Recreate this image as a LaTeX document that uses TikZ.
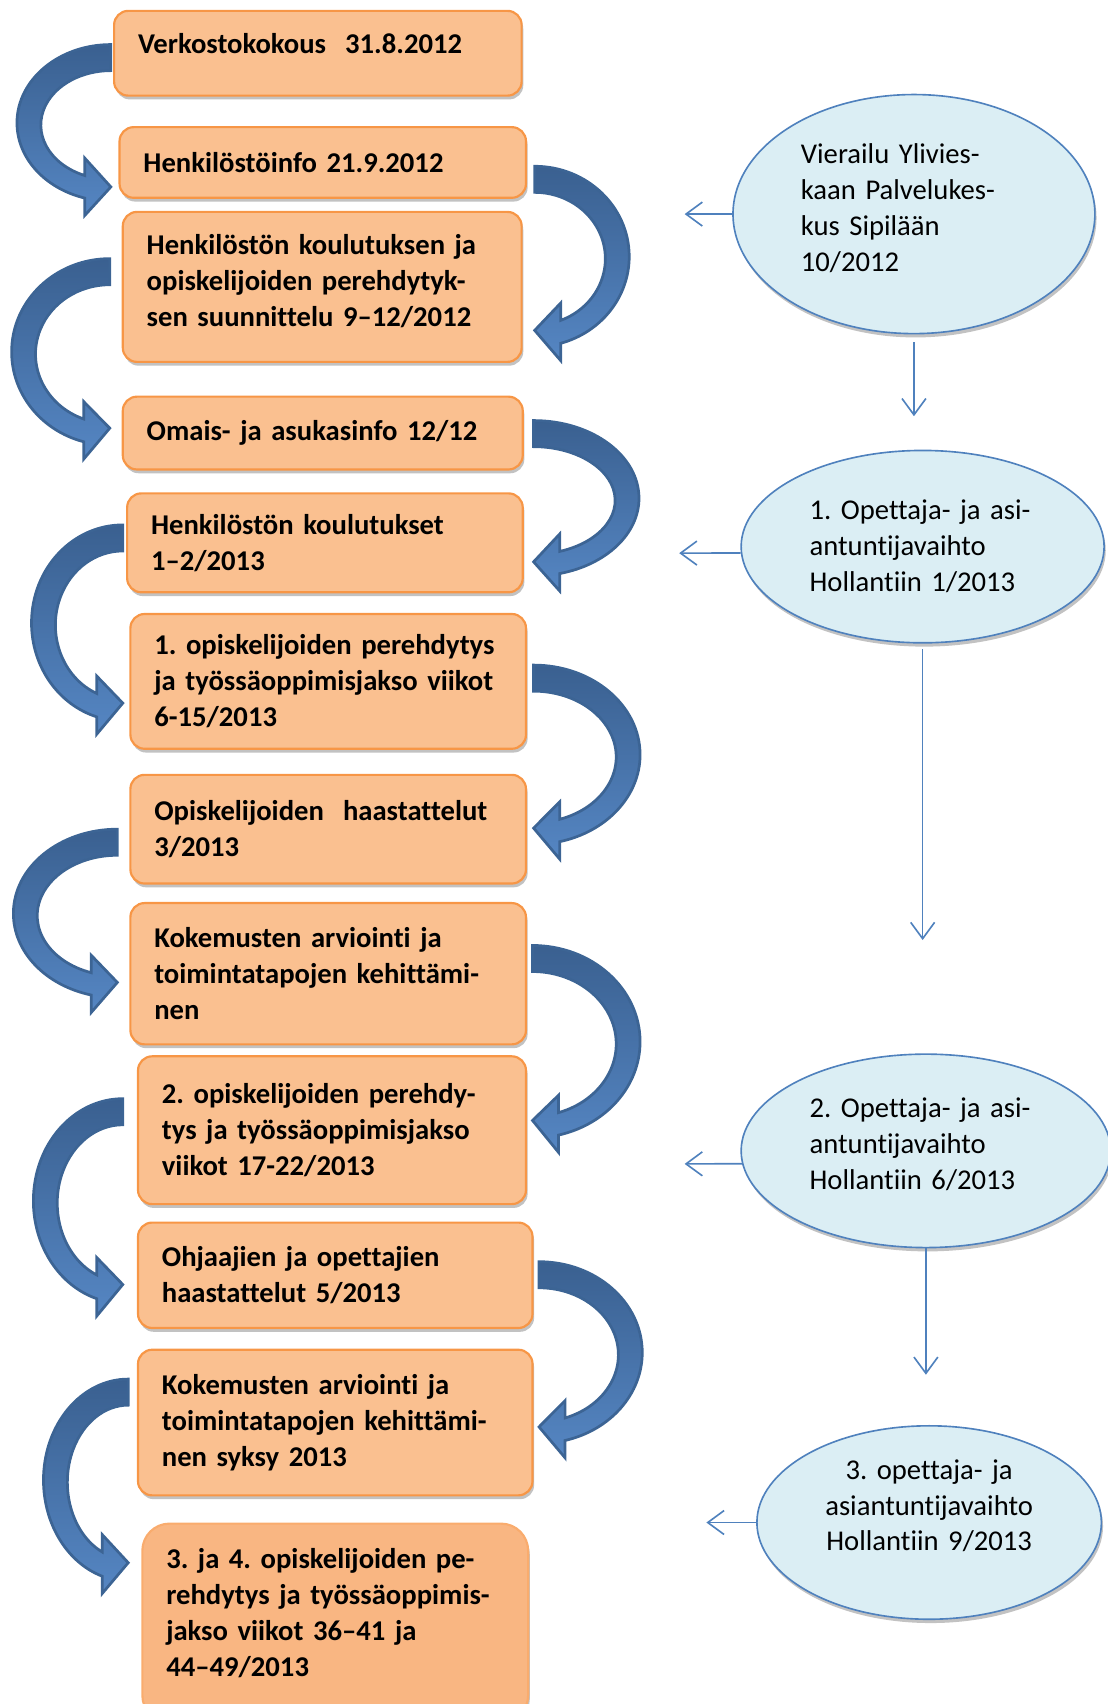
\documentclass[tikz,border=0pt]{standalone}
\usepackage{fontspec}
\setmainfont{Carlito}[Ligatures=NoCommon]
\frenchspacing
\usepackage{tikz}
\usetikzlibrary{arrows.meta,shadows,shapes.geometric}
\definecolor{stagefill}{HTML}{FAC090}
\definecolor{stageline}{HTML}{F79646}
\definecolor{lastfill}{HTML}{F9B682}
\definecolor{lastline}{HTML}{F9AC6E}
\definecolor{visitfill}{HTML}{DBEEF4}
\definecolor{visitline}{HTML}{4F81BD}
\definecolor{bendtop}{HTML}{3A6090}
\definecolor{bendbot}{HTML}{5586C3}
\definecolor{bendline}{HTML}{3C6494}
\tikzset{stage/.style={rounded corners=2.6mm, draw=stageline, line width=0.4mm, fill=stagefill,
   drop shadow={shadow xshift=0.3mm, shadow yshift=-0.7mm, fill=black!40, opacity=0.6},
   inner xsep=4.4mm, inner ysep=1mm, align=left,
   font=\fontsize{15}{18.8}\selectfont\bfseries},
 visit/.style={ellipse, draw=visitline, line width=0.3mm, fill=visitfill,
   drop shadow={shadow xshift=0.3mm, shadow yshift=-0.7mm, fill=black!40, opacity=0.6},
   inner sep=0pt, align=left, font=\fontsize{15}{18.8}\selectfont},
 link/.style={draw=visitline, line width=0.3mm, -{Straight Barb[length=3mm,width=4.4mm]}},
 bend arrow/.style={draw=bendline, line width=0.5mm, top color=bendtop, bottom color=bendbot}
}
% #1 side (-1 left, 1 right), #2 start x, #3 top y, #4 far x, #5 tip y
\newcommand{\bendarrow}[5]{%
  \pgfmathsetmacro{\bndW}{abs(#4-#2)}
  \pgfmathsetmacro{\bndB}{0.55*(#5-#3)}
  \pgfmathsetmacro{\bndS}{90-180*(#1)}
  \pgfmathsetmacro{\bndO}{acos((#1)*24/\bndW)}
  \pgfmathsetmacro{\bndPo}{#3+\bndB+\bndB*sin(\bndO)}
  \pgfmathsetmacro{\bndWi}{\bndW-22}
  \pgfmathsetmacro{\bndBi}{\bndB-22}
  \pgfmathsetmacro{\bndI}{acos((#1)*24/\bndWi)}
  \pgfmathsetmacro{\bndPi}{#3+\bndB+2+\bndBi*sin(\bndI)}
  \pgfmathsetmacro{\bndX}{#2+24*(#1)}
  \path[bend arrow] (#2,#3) arc[start angle=\bndS, end angle=\bndO, x radius=\bndW, y radius=\bndB]
    -- (\bndX,\bndPo+16) -- (#2,#5) -- (\bndX,\bndPi-16) -- (\bndX,\bndPi)
    arc[start angle=\bndI, end angle=\bndS, x radius=\bndWi, y radius=\bndBi] -- cycle;
}

\begin{document}
\begin{tikzpicture}[x=0.2mm, y=-0.2mm]
        \useasboundingbox (0,0) rectangle (1019,1568);
        \node[stage, minimum width=75mm, minimum height=15.6mm, text width=66.2mm, text depth=3.6mm] (b1) at (292.5,49) {Verkostokokous~~31.8.2012};
        \node[stage, minimum width=74.8mm, minimum height=13mm, text width=66mm] (b2) at (297,149.5) {Henkilöstöinfo 21.9.2012};
        \node[stage, minimum width=73.4mm, minimum height=27.6mm, text width=64.6mm, text depth=15.6mm] (b3) at (296.5,264) {Henkilöstön koulutuksen ja\\opiskelijoiden perehdytyk-\\sen suunnittelu 9–12/2012};
        \node[stage, minimum width=73.6mm, minimum height=13.4mm, text width=64.8mm] (b4) at (297,398.5) {Omais- ja asukasinfo 12/12};
        \node[stage, minimum width=72.8mm, minimum height=18.2mm, text width=64mm] (b5) at (299,499.5) {Henkilöstön koulutukset\\1–2/2013};
        \node[stage, minimum width=72.8mm, minimum height=24.8mm, text width=64mm] (b6) at (302,627) {1. opiskelijoiden perehdytys\\ja työssäoppimisjakso viikot\\6-15/2013};
        \node[stage, minimum width=72.8mm, minimum height=20mm, text width=64mm] (b7) at (302,763) {Opiskelijoiden~~haastattelut\\3/2013};
        \node[stage, minimum width=72.8mm, minimum height=26mm, text width=64mm] (b8) at (302,896) {Kokemusten arviointi ja\\toimintatapojen kehittämi-\\nen};
        \node[stage, minimum width=71.4mm, minimum height=27.2mm, text width=62.6mm] (b9) at (305.5,1040) {2. opiskelijoiden perehdy-\\tys ja työssäoppimisjakso\\viikot 17-22/2013};
        \node[stage, minimum width=72.6mm, minimum height=19.4mm, text width=63.8mm] (b10) at (308.5,1173.5) {Ohjaajien ja opettajien\\haastattelut 5/2013};
        \node[stage, minimum width=72.6mm, minimum height=26.8mm, text width=63.8mm] (b11) at (308.5,1309) {Kokemusten arviointi ja\\toimintatapojen kehittämi-\\nen syksy 2013};
        \node[stage, rounded corners=5mm, draw=lastline, fill=lastfill, minimum width=71mm, minimum height=36.6mm, text width=62.2mm, text depth=23.8mm] (b12) at (308.5,1493.5) {3. ja 4. opiskelijoiden pe-\\rehdytys ja työssäoppimis-\\jakso viikot 36–41 ja\\44–49/2013};

        \node[visit, minimum width=66.6mm, minimum height=44mm, text width=41.6mm, text depth=22.2mm] (e1) at (841,197) {Vierailu Ylivies-\\kaan Palvelukes-\\kus Sipilään\\10/2012};
        \node[visit, minimum width=66.8mm, minimum height=35.4mm, text width=41.6mm] (e2) at (849,503) {1. Opettaja- ja asi-\\antuntijavaihto\\Hollantiin 1/2013};
        \node[visit, minimum width=68mm, minimum height=35.6mm, text width=42.8mm, text depth=16mm] (e3) at (852,1059) {2. Opettaja- ja asi-\\antuntijavaihto\\Hollantiin 6/2013};
        \node[visit, align=center, minimum width=63.4mm, minimum height=35.6mm, text width=44mm, text depth=19.6mm] (e4) at (855,1401) {3. opettaja- ja\\asiantuntijavaihto\\Hollantiin 9/2013};

        \coordinate (v1) at (630,197);
        \coordinate (v2) at (841,383);
        \coordinate (v3) at (625,509);
        \coordinate (v4) at (849,865);
        \coordinate (v5) at (630,1071);
        \coordinate (v6) at (852,1265);
        \coordinate (v7) at (650,1401);
        \draw[link] (e1.west) -- (v1);
        \draw[link] ([yshift=-1.4mm]e1.south) -- (v2);
        \draw[link] (e2.182) -- (v3);
        \draw[link] ([yshift=-1mm]e2.south) -- (v4);
        \draw[link] (e3.184) -- (v5);
        \draw[link] (e3.south) -- (v6);
        \draw[link] (e4.west) -- (v7);

        \bendarrow{-1}{102}{41}{15.6}{172}
        \bendarrow{-1}{101}{238}{10.7}{394}
        \bendarrow{-1}{113}{483}{29}{647}
        \bendarrow{-1}{108}{763}{12.3}{904}
        \bendarrow{-1}{113}{1011}{30.7}{1182}
        \bendarrow{-1}{118}{1269}{40}{1438}
        \bendarrow{1}{492}{153}{579}{304}
        \bendarrow{1}{491}{387}{588}{517}
        \bendarrow{1}{491}{612}{589}{762}
        \bendarrow{1}{490}{870}{589}{1031}
        \bendarrow{1}{496}{1161}{591}{1313}
    \end{tikzpicture}
\end{document}
